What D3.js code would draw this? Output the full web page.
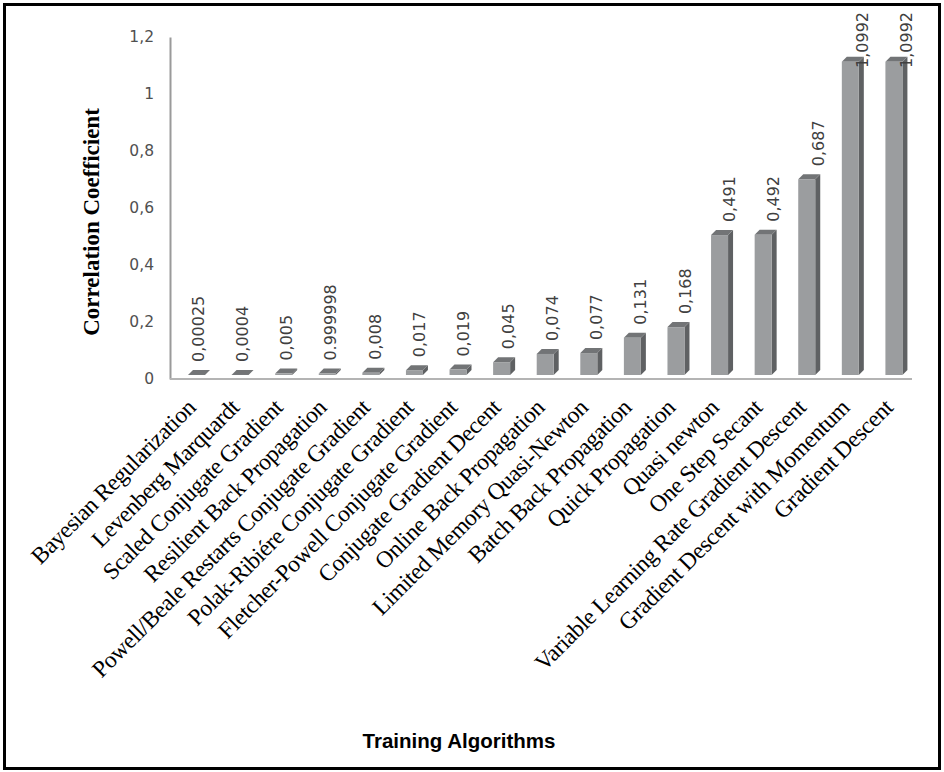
<!DOCTYPE html>
<html>
<head>
<meta charset="utf-8">
<script src="https://cdn.jsdelivr.net/npm/d3@7"></script>
<style>
  body { margin: 0; background: #fff; }
</style>
</head>
<body>
<script>
// data
const algorithms = [
  "Bayesian Regularization", "Levenberg Marquardt", "Scaled Conjugate Gradient",
  "Resilient Back Propagation", "Powell/Beale Restarts Conjugate Gradient",
  "Polak-Ribiére Conjugate Gradient", "Fletcher-Powell Conjugate Gradient",
  "Conjugate Gradient Decent", "Online Back Propagation", "Limited Memory Quasi-Newton",
  "Batch Back Propagation", "Quick Propagation", "Quasi newton", "One Step Secant",
  "Variable Learning Rate Gradient Descent", "Gradient Descent with Momentum", "Gradient Descent"
];
const values = [0.00025, 0.0004, 0.005, 0.005, 0.008, 0.017, 0.019, 0.045, 0.074, 0.077,
  0.131, 0.168, 0.491, 0.492, 0.687, 1.0992, 1.0992];
const valueLabels = ["0,00025", "0,0004", "0,005", "0.999998", "0,008", "0,017", "0,019",
  "0,045", "0,074", "0,077", "0,131", "0,168", "0,491", "0,492", "0,687", "1,0992", "1,0992"];
const yTicks = [0, 0.2, 0.4, 0.6, 0.8, 1, 1.2];

const width = 944, height = 772;
const svg = d3.select("body").append("svg")
  .attr("width", width)
  .attr("height", height);

svg.append("rect")
  .attr("x", 4.5).attr("y", 4.5)
  .attr("width", 935).attr("height", 764)
  .attr("fill", "#fff")
  .attr("stroke", "#000")
  .attr("stroke-width", 3);

const x = d3.scaleBand()
  .domain(algorithms)
  .range([170, 911]);

const y = d3.scaleLinear()
  .domain([0, 1.2])
  .range([379, 37]);

// 3d look: depth offsets
const frontW = 17, frontOff = 18, dx = 5, dy = 5, lift = 4;

// axes
const yAxis = svg.append("g")
  .attr("transform", "translate(170,0)")
  .call(d3.axisLeft(y).tickValues(yTicks).tickSize(0).tickPadding(16)
    .tickFormat(d => String(d).replace(".", ",")));
yAxis.select(".domain").attr("stroke", "#9a9a9a").attr("stroke-width", 2);
yAxis.selectAll("text")
  .attr("font-family", "DejaVu Sans, Verdana, sans-serif")
  .attr("font-size", 15.5)
  .attr("fill", "#505050");

svg.append("line")
  .attr("x1", 170).attr("x2", 912)
  .attr("y1", y(0)).attr("y2", y(0))
  .attr("stroke", "#b4b4b4")
  .attr("stroke-width", 2);

const bars = svg.append("g")
  .selectAll("g")
  .data(algorithms)
  .join("g");

const fx = d => x(d) + frontOff;
const barTop = (d, i) => y(values[i]) - lift;
const barBottom = y(0) - lift;

bars.append("path")
  .attr("fill", "#5f6163")
  .attr("d", (d, i) => {
    const x1 = fx(d) + frontW, t = barTop(d, i);
    return `M${x1},${t}L${x1 + dx},${t - dy}L${x1 + dx},${barBottom - dy}L${x1},${barBottom}Z`;
  });
bars.append("path")
  .attr("fill", "#727476")
  .attr("d", (d, i) => {
    const x0 = fx(d), t = barTop(d, i);
    return `M${x0},${t}L${x0 + dx},${t - dy}L${x0 + frontW + dx},${t - dy}L${x0 + frontW},${t}Z`;
  });
bars.append("rect")
  .attr("fill", "#9b9d9f")
  .attr("x", d => fx(d))
  .attr("y", (d, i) => barTop(d, i))
  .attr("width", frontW)
  .attr("height", (d, i) => barBottom - barTop(d, i));

// value labels, rotated
const vl = svg.append("g")
  .selectAll("text")
  .data(algorithms)
  .join("text")
  .attr("font-family", "DejaVu Sans, Verdana, sans-serif")
  .attr("font-size", 16)
  .attr("fill", "#404040")
  .attr("dy", "0.35em")
  .text((d, i) => valueLabels[i]);
vl.each(function(d, i) {
  const len = this.getComputedTextLength();
  const cx = fx(d) + 10 + i * 0.7;
  const cy = Math.max(barTop(d, i) - dy - 8, 12 + len);
  d3.select(this).attr("transform", `translate(${cx},${cy}) rotate(-90)`);
});

// category labels
svg.append("g")
  .selectAll("text")
  .data(algorithms)
  .join("text")
  .attr("font-family", "Liberation Serif, Times New Roman, serif")
  .attr("font-size", 23.5)
  .attr("letter-spacing", -0.4)
  .attr("fill", "#000")
  .attr("text-anchor", "end")
  .attr("transform", d => `translate(${fx(d) + 9},${409}) rotate(-45)`)
  .text(d => d);

// titles
svg.append("text")
  .attr("transform", "translate(99,222) rotate(-90)")
  .attr("text-anchor", "middle")
  .attr("font-family", "Liberation Serif, Times New Roman, serif")
  .attr("font-weight", "bold")
  .attr("font-size", 23)
  .text("Correlation Coefficient");

svg.append("text")
  .attr("x", 459).attr("y", 748)
  .attr("text-anchor", "middle")
  .attr("font-family", "Liberation Sans, Arial, sans-serif")
  .attr("font-weight", "bold")
  .attr("font-size", 20.5)
  .text("Training Algorithms");
</script>
</body>
</html>
